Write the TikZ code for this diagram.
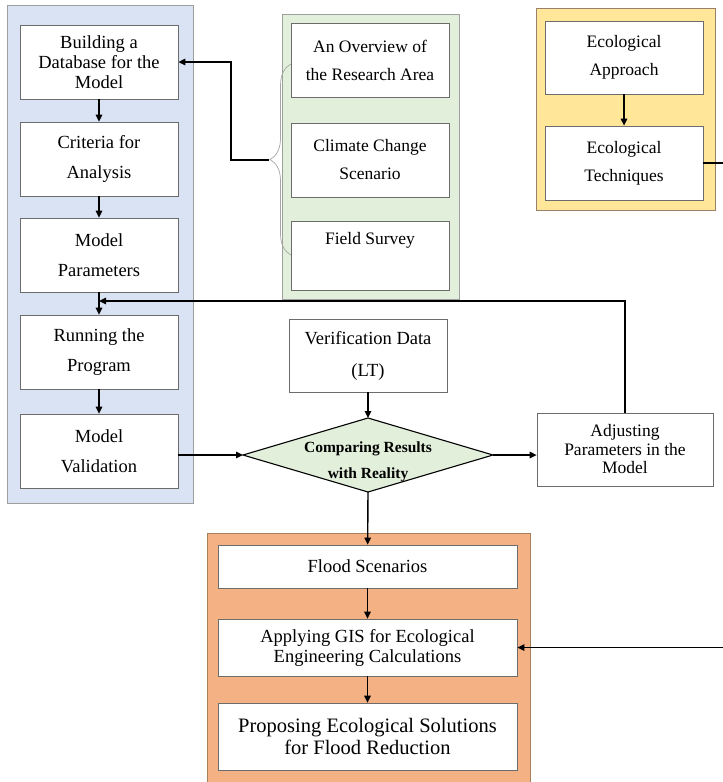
\documentclass[tikz,border=0pt]{standalone}
\usepackage{fontspec}
\setmainfont{Liberation Serif}
\usetikzlibrary{positioning,arrows.meta,decorations.pathreplacing}
\definecolor{paneblue}{HTML}{DAE3F3}
\definecolor{panegreen}{HTML}{E2EFDA}
\definecolor{paneyellow}{HTML}{FFE699}
\definecolor{paneorange}{HTML}{F4B183}
\newcommand{\edge}{gray!85!black}
\tikzset{
    line/.style = { line width=1.4pt, },
    arrow/.style = { -{Triangle[length=7pt,width=6.5pt]},line width=1.4pt, },
    panel/.style = { draw=gray!75,line width=0.9pt, },
    box/.style = { draw=\edge,fill=white,line width=0.8pt,align=center,inner sep=0,
        font=\fontsize{18.5}{20}\selectfont, },
    smallbox/.style = { box,font=\fontsize{17.5}{19}\selectfont, },
    decide/.style = { font=\bfseries\fontsize{15.5}{26}\selectfont,align=center,inner sep=0, },
}
\newcommand{\stage}[7][]{
    \node [box,minimum width=#5,minimum height=#6,#1] (#2) at (#3,#4) {#7};
}

\begin{document}
\begin{tikzpicture}[x=1pt,y=-1pt]

    \useasboundingbox (0,0) rectangle (723,782);

    % panels
    \fill [paneblue] (7,5) rectangle (193,503);
    \draw [panel] (7,5) rectangle (193,503);
    \fill [panegreen] (282,14) rectangle (459,299);
    \draw [panel] (282,14) rectangle (459,299);
    \fill [paneyellow] (536,8) rectangle (715,210);
    \draw [panel,draw=gray!60!brown] (536,8) rectangle (715,210);
    \fill [paneorange] (207,533) rectangle (530,800);
    \draw [panel,draw=brown!60!gray] (207,533) rectangle (530,800);

    % model column
    \stage{build}{99}{62}{158}{74}{Building a\\Database for the\\Model}
    \stage{crit}{99}{159}{158}{74}{Criteria for\\[10pt]Analysis}
    \stage{param}{99}{255}{158}{74}{Model\\[10pt]Parameters}
    \stage{run}{99}{352}{158}{74}{Running the\\[10pt]Program}
    \stage{valid}{99}{451}{158}{74}{Model\\[10pt]Validation}

    % inputs
    \stage[smallbox]{over}{370}{60}{158}{74}{An Overview of\\[9pt]the Research Area}
    \stage[smallbox]{clim}{370}{160}{158}{74}{Climate Change\\[9pt]Scenario}
    \stage[smallbox]{field}{370}{255.5}{158}{69}{Field Survey\\[15pt]~}

    \stage[smallbox]{appr}{624}{57.5}{158}{73}{Ecological\\[9pt]Approach}
    \stage[smallbox]{tech}{624}{163}{158}{74}{Ecological\\[9pt]Techniques}

    \stage{verif}{368}{355.5}{158}{73}{Verification Data\\[12pt](LT)}
    \stage[smallbox,font=\fontsize{17.5}{18.5}\selectfont]{adj}{625}{449.5}{176}{73}{Adjusting\\Parameters in the\\Model}

    % results
    \stage{flood}{367.5}{566.5}{299}{43}{Flood Scenarios}
    \stage{gis}{367.5}{647.5}{299}{57}{Applying GIS for Ecological\\Engineering Calculations}
    \stage[font=\fontsize{20.5}{22}\selectfont]{prop}{367.5}{736.5}{299}{67}{Proposing Ecological Solutions\\for Flood Reduction}

    % decision
    \coordinate (cmpL) at (243,455);
    \coordinate (cmpT) at (368,418);
    \coordinate (cmpR) at (493,455);
    \coordinate (cmpB) at (368,492);
    \draw [fill=panegreen,line width=1.1pt] (cmpL) -- (cmpT) -- (cmpR) -- (cmpB) -- cycle;
    \node [decide] (cmp) at (368,462) {Comparing Results\\with Reality};

    % brace
    \draw [draw=gray!70,line width=0.7pt,decorate,decoration={brace,amplitude=21pt}]
        (291,255) -- (291,64);
    \coordinate (brtip) at (269,160);
    \coordinate (fb) at (99,301);

    \draw [arrow] (build) -- (crit);
    \draw [arrow] (crit) -- (param);
    \draw [arrow] (param) -- (run);
    \draw [arrow] (run) -- (valid);
    \draw [arrow] (appr) -- (tech);
    \draw [arrow] (brtip) -- ++(-38,0) |- (build.east);
    \draw [arrow] (valid.east |- cmpL) -- (cmpL);
    \draw [arrow] (verif) -- (cmpT);
    \draw [arrow] (cmpR) -- (cmpR -| adj.west);
    \draw [arrow] (adj.north) |- (fb);
    \draw [arrow] (cmpB) -- (flood);
    \draw [arrow] (flood) -- (gis);
    \draw [arrow] (gis) -- (prop);
    \draw [arrow] (tech.east) -- ++(30,0) |- (gis.east);

\end{tikzpicture}
\end{document}
